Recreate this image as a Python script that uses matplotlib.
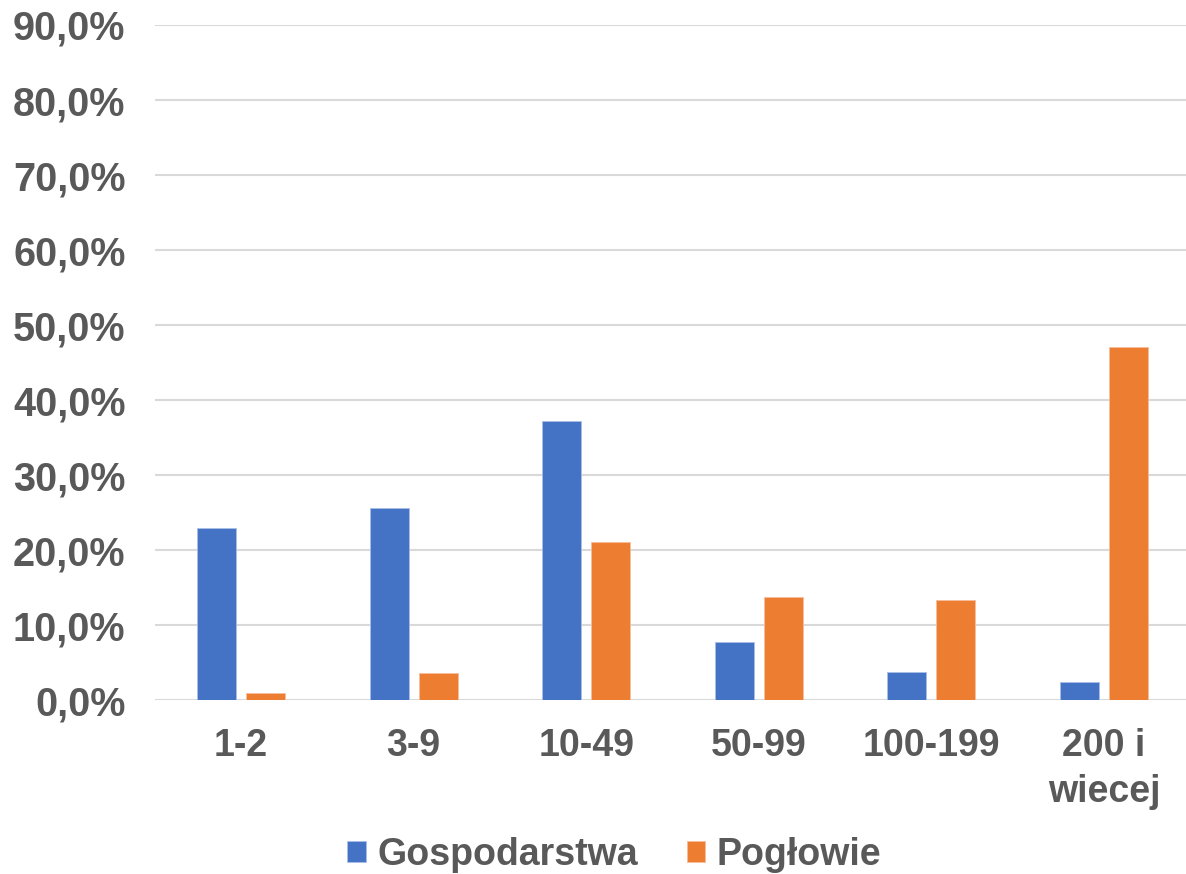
import numpy as np
import matplotlib
matplotlib.use('Agg')
from matplotlib import pyplot as plt
from matplotlib.ticker import FuncFormatter

kategorie = ['1-2', '3-9', '10-49', '50-99', '100-199', '200 i\nwiecej']
gospodarstwa = [23.0, 25.6, 37.2, 7.7, 3.7, 2.4]
poglowie = [0.9, 3.6, 21.1, 13.7, 13.3, 47.1]

plt.rcParams['font.family'] = ['Liberation Sans', 'DejaVu Sans']
plt.rcParams['font.weight'] = 'bold'
szary = '#595959'

fig = plt.figure(figsize=(11.86, 8.74), dpi=100)
ax = fig.add_axes([0.1304, 0.199, 0.8732, 0.7724])

x = np.arange(len(kategorie))
w = 0.226
ax.bar(x - w / 2 - 0.029, gospodarstwa, w, color='#4472C4', edgecolor='#a9bfe6', linewidth=0.6,
       label='Gospodarstwa', zorder=3)
ax.bar(x + w / 2 + 0.029, poglowie, w, color='#ED7D31', edgecolor='#f6be9c', linewidth=0.6,
       label='Pogłowie', zorder=3)

ax.set_ylim(0, 90)
ax.set_xlim(-0.5, len(kategorie) - 0.5)
ax.set_yticks(np.arange(0, 91, 10))
ax.yaxis.set_major_formatter(FuncFormatter(lambda v, p: f'{v:.1f}%'.replace('.', ',')))
ax.set_xticks(x)
ax.set_xticklabels(kategorie, linespacing=1.35)
ax.tick_params(axis='y', labelsize=28.5, labelcolor=szary, length=0, pad=21)
ax.tick_params(axis='x', labelsize=27, labelcolor=szary, length=0, pad=20)
ax.grid(axis='y', color='#d9d9d9', linewidth=1.5, zorder=0)
for s in ax.spines.values():
    s.set_visible(False)

leg = fig.legend(loc='center', bbox_to_anchor=(0.518, 0.022), ncol=2, frameon=False,
                 fontsize=27, handlelength=0.5, handleheight=0.5, handletextpad=0.3,
                 columnspacing=1.3)
for t in leg.get_texts():
    t.set_color(szary)

fig.savefig('out.png', dpi=100)
